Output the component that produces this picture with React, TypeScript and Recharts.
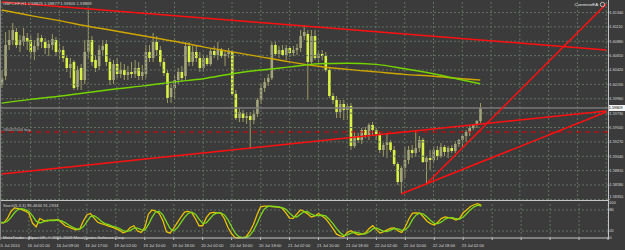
import React from "react";
import { ComposedChart, Bar, Line, XAxis, YAxis, ReferenceLine } from "recharts";

// GBPCHF H1, 15 Jul 2010 17:00 -> 23 Jul 2010
const timeLabels = [
  "15 Jul 2010", "16 Jul 01:00", "16 Jul 09:00", "16 Jul 17:00", "19 Jul 02:00",
  "19 Jul 10:00", "19 Jul 18:00", "20 Jul 02:00", "20 Jul 10:00", "20 Jul 18:00",
  "21 Jul 02:00", "21 Jul 10:00", "21 Jul 18:00", "22 Jul 02:00", "22 Jul 10:00",
  "22 Jul 18:00", "23 Jul 02:00",
];

const open = [
  1.6018, 1.60324, 1.6082, 1.609, 1.61028, 1.6082, 1.60868, 1.60932, 1.609, 1.60708,
  1.60804, 1.60932, 1.60868, 1.60772, 1.6082, 1.609, 1.60708, 1.6074, 1.60612, 1.60452,
  1.60548, 1.60148, 1.60452, 1.6026, 1.60708, 1.609, 1.6058, 1.60484, 1.6074, 1.60836,
  1.60548, 1.6026, 1.60516, 1.60356, 1.6042, 1.6034, 1.60388, 1.60356, 1.60452, 1.60324,
  1.60356, 1.60708, 1.60612, 1.60868, 1.6074, 1.60548, 1.60372, 1.59988, 1.60132, 1.6026,
  1.60388, 1.60324, 1.60804, 1.60548, 1.60708, 1.60612, 1.60452, 1.60612, 1.60516, 1.60724,
  1.6066, 1.6074, 1.60644, 1.60676, 1.60708, 1.60036, 1.59652, 1.59732, 1.59652, 1.59684,
  1.5962, 1.59716, 1.5994, 1.60132, 1.60228, 1.60292, 1.6082, 1.60676, 1.6074, 1.6066,
  1.60772, 1.60692, 1.6074, 1.60772, 1.60964, 1.60996, 1.60548, 1.60964, 1.60612, 1.60676,
  1.60644, 1.6042, 1.60004, 1.5994, 1.59748, 1.59876, 1.5978, 1.59844, 1.59204, 1.59364,
  1.593, 1.5946, 1.5938, 1.5954, 1.5946, 1.59396, 1.5914, 1.5922, 1.59268, 1.5914,
  1.58916, 1.58628, 1.58852, 1.5898, 1.5914, 1.59092, 1.59172, 1.593, 1.58948, 1.59012,
  1.5898, 1.5914, 1.59044, 1.59188, 1.59108, 1.59172, 1.59124, 1.59236, 1.593, 1.59364,
  1.59428, 1.59492, 1.5954, 1.59604,
];

const high = [
  1.6042, 1.61028, 1.6106, 1.61172, 1.61092, 1.6098, 1.61092, 1.61012, 1.60964, 1.609,
  1.61012, 1.6098, 1.60932, 1.609, 1.60996, 1.60948, 1.60836, 1.60804, 1.6066, 1.60612,
  1.6058, 1.60484, 1.60516, 1.609, 1.6138, 1.60964, 1.6066, 1.6082, 1.609, 1.609,
  1.60612, 1.6058, 1.60612, 1.60548, 1.60516, 1.60484, 1.60548, 1.6058, 1.60548, 1.605,
  1.6082, 1.6082, 1.61012, 1.60964, 1.60804, 1.60612, 1.6042, 1.60196, 1.60324, 1.60452,
  1.60484, 1.60868, 1.60868, 1.60804, 1.60804, 1.60708, 1.60676, 1.6066, 1.60772, 1.60804,
  1.60868, 1.60772, 1.6074, 1.60772, 1.6074, 1.601, 1.59812, 1.5978, 1.59748, 1.59748,
  1.5978, 1.59972, 1.60196, 1.60292, 1.60356, 1.60868, 1.60868, 1.60804, 1.6082, 1.6082,
  1.60804, 1.60804, 1.60836, 1.6106, 1.6114, 1.6106, 1.6106, 1.6106, 1.6074, 1.6074,
  1.60708, 1.60452, 1.60052, 1.60004, 1.5994, 1.5994, 1.59876, 1.59892, 1.59428, 1.59412,
  1.59492, 1.59508, 1.59572, 1.59588, 1.59492, 1.59428, 1.59252, 1.59412, 1.593, 1.59204,
  1.58948, 1.58884, 1.59188, 1.59204, 1.5922, 1.5946, 1.59364, 1.59332, 1.59044, 1.5914,
  1.59204, 1.59204, 1.59252, 1.5922, 1.59204, 1.5922, 1.59284, 1.59316, 1.59396, 1.5946,
  1.59524, 1.59556, 1.5962, 1.59892,
];

const low = [
  1.60132, 1.6026, 1.6074, 1.6082, 1.60772, 1.60708, 1.60804, 1.6074, 1.60612, 1.6058,
  1.6074, 1.60772, 1.60676, 1.60644, 1.6074, 1.60644, 1.6058, 1.60548, 1.60388, 1.60292,
  1.601, 1.601, 1.601, 1.60196, 1.60612, 1.60484, 1.60388, 1.6042, 1.6066, 1.60484,
  1.6018, 1.60196, 1.60292, 1.60292, 1.6026, 1.6026, 1.60292, 1.60292, 1.6026, 1.6026,
  1.60292, 1.60548, 1.60548, 1.60644, 1.60484, 1.60324, 1.59892, 1.59892, 1.59972, 1.60196,
  1.60228, 1.6026, 1.60484, 1.60484, 1.60548, 1.60388, 1.60388, 1.60484, 1.60484, 1.60612,
  1.6058, 1.60612, 1.60484, 1.60612, 1.60004, 1.5962, 1.59588, 1.59588, 1.59556, 1.59172,
  1.59556, 1.59668, 1.59876, 1.60068, 1.60164, 1.6026, 1.60644, 1.60612, 1.60644, 1.6058,
  1.60628, 1.60644, 1.6066, 1.60708, 1.609, 1.5994, 1.60516, 1.6058, 1.60532, 1.6058,
  1.60388, 1.59972, 1.59876, 1.59652, 1.59652, 1.5962, 1.5962, 1.5914, 1.59172, 1.59252,
  1.59236, 1.59332, 1.593, 1.59364, 1.593, 1.59092, 1.59028, 1.59012, 1.59108, 1.58884,
  1.5858, 1.58452, 1.58692, 1.58916, 1.59012, 1.59028, 1.59108, 1.58932, 1.58596, 1.5882,
  1.58948, 1.5898, 1.59012, 1.59044, 1.59012, 1.59092, 1.59092, 1.59188, 1.59188, 1.59268,
  1.59364, 1.5946, 1.59492, 1.59572,
];

const close = [
  1.60292, 1.6082, 1.609, 1.6106, 1.6082, 1.609, 1.60964, 1.60868, 1.60708, 1.60804,
  1.60932, 1.60868, 1.60772, 1.60836, 1.60916, 1.60708, 1.6074, 1.60612, 1.60452, 1.60516,
  1.60132, 1.6042, 1.6026, 1.60708, 1.609, 1.60548, 1.60452, 1.6074, 1.60804, 1.60548,
  1.6026, 1.60516, 1.60356, 1.6042, 1.6034, 1.60388, 1.60356, 1.60452, 1.60324, 1.60388,
  1.60708, 1.60612, 1.60868, 1.6074, 1.60548, 1.60372, 1.59972, 1.60132, 1.6026, 1.60388,
  1.60292, 1.60804, 1.60548, 1.60708, 1.60612, 1.60452, 1.60612, 1.60516, 1.60724, 1.6066,
  1.6074, 1.60644, 1.60676, 1.60708, 1.60036, 1.59652, 1.59748, 1.59652, 1.59684, 1.5962,
  1.59716, 1.5994, 1.60132, 1.60228, 1.60292, 1.6082, 1.60676, 1.6074, 1.6066, 1.60772,
  1.60692, 1.6074, 1.60772, 1.60964, 1.61028, 1.60548, 1.60964, 1.60612, 1.60676, 1.60644,
  1.6042, 1.60004, 1.5994, 1.59748, 1.59876, 1.5978, 1.59844, 1.59204, 1.59364, 1.593,
  1.5946, 1.5938, 1.5954, 1.5946, 1.59396, 1.5914, 1.5922, 1.59268, 1.5914, 1.58916,
  1.58628, 1.58852, 1.5898, 1.5914, 1.59092, 1.59172, 1.593, 1.58948, 1.59012, 1.5898,
  1.5914, 1.59044, 1.59188, 1.59108, 1.59172, 1.59124, 1.59236, 1.593, 1.59364, 1.59428,
  1.59492, 1.5954, 1.59604, 1.59812,
];

// Stochastic(5,3,3): main (yellow) and signal (green)
const stochMain = [
  43, 43, 55, 75, 86, 84, 81, 77, 70, 42,
  32, 56, 50, 48, 51, 51, 53, 44, 35, 31,
  27, 23, 25, 48, 66, 70, 57, 45, 41, 38,
  34, 31, 27, 22, 15, 19, 30, 35, 20, 16,
  30, 68, 80, 77, 70, 50, 18, 14, 28, 44,
  60, 74, 76, 72, 55, 35, 35, 58, 71, 73,
  72, 71, 55, 30, 12, 1, 0, 1, 3, 18,
  38, 66, 89, 91, 91, 90, 89, 88, 85, 72,
  57, 56, 68, 80, 76, 69, 60, 63, 70, 63,
  55, 42, 27, 11, 6, 4, 16, 21, 14, 9,
  11, 15, 27, 35, 24, 14, 18, 23, 28, 29,
  20, 16, 32, 55, 71, 72, 71, 60, 48, 41,
  37, 46, 56, 60, 58, 56, 51, 56, 72, 81,
  90, 95, 98, 93.48,
];
const stochSignal = [
  45, 44, 47, 58, 72, 82, 84, 81, 76, 63,
  48, 43, 46, 51, 50, 50, 52, 49, 44, 37,
  31, 27, 25, 32, 46, 61, 64, 57, 48, 41,
  38, 34, 31, 27, 21, 19, 21, 28, 28, 24,
  22, 38, 59, 75, 76, 66, 46, 27, 20, 29,
  44, 59, 70, 74, 68, 54, 42, 43, 55, 67,
  72, 72, 66, 52, 32, 14, 4, 1, 1, 7,
  20, 41, 64, 82, 90, 91, 90, 89, 87, 82,
  71, 62, 60, 68, 75, 75, 68, 64, 64, 65,
  63, 53, 41, 27, 15, 7, 9, 14, 17, 15,
  11, 12, 18, 26, 29, 24, 19, 18, 23, 27,
  26, 22, 23, 34, 53, 66, 71, 68, 60, 50,
  42, 41, 46, 54, 58, 58, 55, 54, 60, 70,
  81, 89, 94, 91.29,
];

// moving averages read at every 8th bar
const maIndex = [0, 8, 16, 24, 32, 40, 48, 56, 64, 72, 80, 88, 96, 104, 112, 120, 128, 133];
const maSlow = [
  1.6138, 1.6129, 1.6121, 1.6112, 1.6104, 1.6096, 1.6088, 1.6079, 1.6071,
  1.6063, 1.6055, 1.6048, 1.6043, 1.6039, 1.6035, 1.6032, 1.6028, 1.6026,
];
const maFast = [
  1.5989, 1.5995, 1.6, 1.6006, 1.6012, 1.6017, 1.6023, 1.6028, 1.6036,
  1.6042, 1.6047, 1.6052, 1.6053, 1.6051, 1.6044, 1.6036, 1.6026, 1.602,
];

// trend lines: [bar, price] pairs
const trendLines = [
  [[0, 1.61508], [168, 1.6074]],
  [[0, 1.58756], [168, 1.59764]],
  [[111, 1.58436], [168, 1.59748]],
  [[118, 1.58596], [168, 1.61476]],
];
const orderLevel = 1.59428;
const bidLevel = 1.59812;

const priceTicks = [
  1.6134, 1.6111, 1.6088, 1.6065, 1.6042, 1.6019, 1.5996,
  1.5973, 1.595, 1.5927, 1.5904, 1.5881, 1.5858, 1.5835,
];
const stochTicks = [0, 20, 80, 100];
const TOTAL_BARS = 169;

const BG = "#3b3b3b";
const GRID = "#627062";
const FRAME = "#c4c4c4";
const TXT = "#d8d8d8";
const FONT = "Liberation Sans, Arial, sans-serif";

const rows = Array.from({ length: TOTAL_BARS }, (_, i) => {
  const has = i < close.length;
  const m = maIndex.indexOf(i);
  return {
    i,
    range: has ? [low[i], high[i]] : null,
    open: has ? open[i] : null,
    high: has ? high[i] : null,
    low: has ? low[i] : null,
    close: has ? close[i] : null,
    maSlow: m >= 0 ? maSlow[m] : null,
    maFast: m >= 0 ? maFast[m] : null,
    k: has ? stochMain[i] : null,
    d: has ? stochSignal[i] : null,
  };
});

const gridBars = Array.from({ length: 22 }, (_, n) => n * 8).filter((v) => v < TOTAL_BARS);

const Candle = (props: any) => {
  const { x, y, width, height, payload } = props;
  if (!payload || payload.range == null) return null;
  const top = Math.min(y, y + height);
  const bot = Math.max(y, y + height);
  const span = payload.high - payload.low;
  const k = span > 0 ? (bot - top) / span : 0;
  const yO = top + (payload.high - payload.open) * k;
  const yC = top + (payload.high - payload.close) * k;
  const cx = x + width / 2;
  const bear = payload.close < payload.open;
  const bw = 2.6;
  return (
    <g>
      <line x1={cx} x2={cx} y1={top} y2={bot} stroke="#9c9c62" strokeWidth={1} />
      <rect
        x={cx - bw / 2}
        y={Math.min(yO, yC)}
        width={bw}
        height={Math.max(1, Math.abs(yC - yO))}
        fill={bear ? "#d9f245" : "#a4a47c"}
      />
    </g>
  );
};

// labels near the pane bottom are nudged up so they are not clipped
const PriceTick = ({ x, y, payload }: any) => (
  <text x={x - 0.5} y={Math.min(y + 1.4, 198.4)} fontSize={3.8} fill={TXT} fontFamily={FONT}>
    {payload.value.toFixed(5)}
  </text>
);

const StochTick = ({ x, y, payload }: any) => (
  <text x={x - 0.5} y={y + 1.4} fontSize={3.8} fill={TXT} fontFamily={FONT}>
    {payload.value}
  </text>
);

const TimeTick = ({ x, y, payload }: any) => {
  const v = payload.value;
  const lbl = v % 8 === 0 ? timeLabels[v / 8] : undefined;
  if (!lbl) return null;
  return (
    <text x={x - 1.5} y={y + 5} fontSize={4.1} fill={TXT} fontFamily={FONT}>
      {lbl}
    </text>
  );
};

const BidBox = ({ viewBox }: any) => {
  const { x, y, width } = viewBox;
  return (
    <g>
      <rect x={x + width} y={y - 3} width={17} height={6} fill="#f4f4f4" />
      <text x={x + width + 0.8} y={y + 1.4} fontSize={3.8} fill="#000" fontFamily={FONT}>
        1.59809
      </text>
    </g>
  );
};

const OrderLabel = ({ viewBox }: any) => (
  <text x={viewBox.x + 3} y={viewBox.y - 1.5} fontSize={4} fill="#b8b8b8" fontFamily={FONT}>
    #80457004 buy
  </text>
);

const App = () => {
  return (
    <div
      style={{
        position: "absolute",
        left: 0,
        top: 0,
        width: 625,
        height: 250,
        background: BG,
        overflow: "hidden",
      }}
    >
      <div style={{ position: "absolute", left: 0, top: 0 }}>
        <ComposedChart
          width={625}
          height={200}
          data={rows}
          margin={{ top: 0, right: 0, left: 0, bottom: 0 }}
          barCategoryGap={0}
        >
          <XAxis dataKey="i" hide />
          <YAxis
            orientation="right"
            type="number"
            domain={[1.5834, 1.6154]}
            allowDataOverflow
            ticks={priceTicks}
            interval={0}
            width={17}
            axisLine={false}
            tickLine={{ stroke: FRAME }}
            tickSize={1.5}
            tickMargin={0.5}
            tick={<PriceTick />}
          />
          {gridBars.map((b) => (
            <ReferenceLine key={"gx" + b} x={b} stroke={GRID} strokeDasharray="2 2" />
          ))}
          {priceTicks.map((p) => (
            <ReferenceLine key={"gy" + p} y={p} stroke={GRID} strokeDasharray="2 2" />
          ))}
          <ReferenceLine y={bidLevel} stroke="#7a7a7a" strokeWidth={1.5} label={<BidBox />} />
          <ReferenceLine
            y={orderLevel}
            stroke="#e00000"
            strokeDasharray="5 4"
            label={<OrderLabel />}
          />
          <Bar dataKey="range" shape={(p: any) => <Candle {...p} />} isAnimationActive={false} />
          <Line
            dataKey="maSlow"
            type="monotone"
            stroke="#cfa600"
            strokeWidth={1.5}
            dot={false}
            connectNulls
            isAnimationActive={false}
          />
          <Line
            dataKey="maFast"
            type="monotone"
            stroke="#74d400"
            strokeWidth={1.5}
            dot={false}
            connectNulls
            isAnimationActive={false}
          />
          {trendLines.map((t, n) => (
            <ReferenceLine
              key={"t" + n}
              segment={[
                { x: t[0][0], y: t[0][1] },
                { x: t[1][0], y: t[1][1] },
              ]}
              stroke="#ff1010"
              strokeWidth={1.5}
              ifOverflow="visible"
            />
          ))}
        </ComposedChart>
      </div>

      <div style={{ position: "absolute", left: 0, top: 201 }}>
        <ComposedChart
          width={625}
          height={49}
          data={rows}
          margin={{ top: 2, right: 0, left: 0, bottom: 0 }}
        >
          <XAxis
            dataKey="i"
            height={12}
            interval={7}
            axisLine={{ stroke: FRAME }}
            tickLine={{ stroke: FRAME }}
            tickSize={2}
            tick={<TimeTick />}
          />
          <YAxis
            orientation="right"
            type="number"
            domain={[0, 100]}
            ticks={stochTicks}
            interval={0}
            width={17}
            axisLine={false}
            tickLine={{ stroke: FRAME }}
            tickSize={1.5}
            tickMargin={0.5}
            tick={<StochTick />}
          />
          {gridBars.map((b) => (
            <ReferenceLine key={"sx" + b} x={b} stroke={GRID} strokeDasharray="2 2" />
          ))}
          <ReferenceLine y={80} stroke={GRID} strokeDasharray="2 2" />
          <ReferenceLine y={20} stroke={GRID} strokeDasharray="2 2" />
          <Line
            dataKey="k"
            type="linear"
            stroke="#ebc200"
            strokeWidth={1.3}
            dot={false}
            isAnimationActive={false}
          />
          <Line
            dataKey="d"
            type="linear"
            stroke="#7ad81c"
            strokeWidth={1.3}
            dot={false}
            isAnimationActive={false}
          />
        </ComposedChart>
      </div>

      {/* window frame */}
      <div style={{ position: "absolute", left: 0, top: 200, width: 608, height: 1, background: FRAME }} />
      <div style={{ position: "absolute", left: 608, top: 0, width: 1, height: 239, background: FRAME }} />
      <div style={{ position: "absolute", left: 0, top: 0, width: 1, height: 239, background: "#8a8a8a" }} />

      <svg
        width={625}
        height={250}
        style={{ position: "absolute", left: 0, top: 0, pointerEvents: "none" }}
      >
        <text x={3} y={5} fontSize={4.2} fill="#cfcfcf" fontFamily={FONT}>
          GBPCHF,H1  1.59825 1.59877 1.59805 1.59809
        </text>
        <text x={598} y={6} fontSize={4.3} fill="#f0f0f0" fontFamily={FONT} textAnchor="end">
          CurrenseEA
        </text>
        <circle cx={602.5} cy={4.5} r={2.2} fill="none" stroke="#f0f0f0" strokeWidth={0.7} />
        <text x={3} y={207} fontSize={4.2} fill="#cfcfcf" fontFamily={FONT}>
          Stoch(5,3,3) 93.4846 91.2934
        </text>
        <text x={3} y={239} fontSize={4.2} fill="#cfcfcf" fontFamily={FONT}>
          MetaTrader - Alpari UK, © 2001-2009 MetaQuotes Software Corp.
        </text>
      </svg>
    </div>
  );
};

export default App;
